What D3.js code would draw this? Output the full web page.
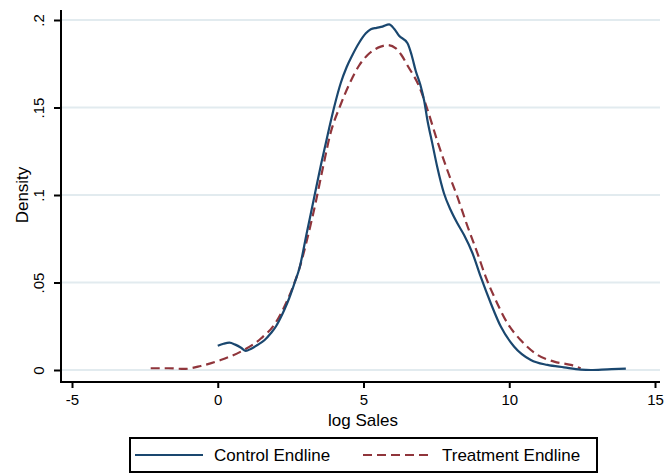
<!DOCTYPE html>
<html>
<head>
<meta charset="utf-8">
<script src="https://cdn.jsdelivr.net/npm/d3@7"></script>
<style>
	body { margin: 0; background: #ffffff; }
	svg { display: block; font-family: "Liberation Sans", Arial, Helvetica, sans-serif; }
</style>
</head>
<body>
<script>
'use strict';

// Kernel density estimates (log Sales, density).
const controlX = [0.0, 0.2, 0.4, 0.6, 0.8, 0.96, 1.15, 1.36, 1.6, 1.82, 2.0, 2.16, 2.3, 2.45, 2.64, 2.8, 3.05, 3.3, 3.55, 3.82, 3.99, 4.22, 4.42, 4.62, 4.85, 5.08, 5.25, 5.45, 5.65, 5.88, 6.05, 6.22, 6.51, 6.65, 6.79, 6.95, 7.08, 7.19, 7.36, 7.53, 7.76, 7.99, 8.22, 8.45, 8.74, 9.02, 9.37, 9.71, 10.17, 10.74, 11.31, 11.88, 12.45, 12.8, 13.37, 14.0];
const controlY = [0.0139, 0.0150, 0.0156, 0.0145, 0.0127, 0.0109, 0.0122, 0.0143, 0.017, 0.021, 0.025, 0.030, 0.035, 0.041, 0.050, 0.058, 0.078, 0.098, 0.118, 0.138, 0.150, 0.164, 0.173, 0.180, 0.187, 0.1924, 0.1947, 0.1955, 0.1962, 0.1975, 0.195, 0.191, 0.1867, 0.180, 0.171, 0.163, 0.154, 0.143, 0.1295, 0.116, 0.101, 0.0914, 0.0838, 0.0771, 0.0667, 0.0533, 0.038, 0.0248, 0.0133, 0.0057, 0.0029, 0.0015, 0.0002, 0.0, 0.0004, 0.0008];

const treatmentX = [-2.3, -1.7, -1.16, -0.58, 0.1, 0.79, 1.48, 1.93, 2.28, 2.56, 2.8, 3.1, 3.35, 3.6, 3.88, 4.2, 4.56, 4.85, 5.14, 5.37, 5.59, 5.82, 6.11, 6.3, 6.51, 6.91, 7.19, 7.53, 7.88, 8.22, 8.57, 8.91, 9.19, 9.48, 9.94, 10.39, 10.97, 11.54, 12.11, 12.45];
const treatmentY = [0.001, 0.001, 0.0006, 0.0023, 0.0057, 0.0105, 0.018, 0.0257, 0.036, 0.0467, 0.058, 0.077, 0.095, 0.115, 0.136, 0.151, 0.165, 0.174, 0.180, 0.183, 0.1848, 0.1857, 0.1838, 0.180, 0.174, 0.162, 0.149, 0.131, 0.114, 0.099, 0.082, 0.0667, 0.0533, 0.042, 0.0267, 0.0171, 0.0086, 0.0048, 0.0029, 0.001];

const xTicks = [-5, 0, 5, 10, 15];
const yTicks = [0, 0.05, 0.1, 0.15, 0.2];
const yTickLabels = ["0", ".05", ".1", ".15", ".2"];
const seriesNames = ["Control Endline", "Treatment Endline"];

// Draws the two density curves in the Stata s2color look.
class DensityChart
{
	constructor(width, height)
	{
		this.width = width;
		this.height = height;
		this.plot = { left: 61, right: 660, top: 10, bottom: 382 };
		this.svg = d3.select("body").append("svg")
			.attr("width", width)
			.attr("height", height);

		this.x = d3.scaleLinear().domain([-5, 15]).range([72, 655]);
		this.y = d3.scaleLinear().domain([0, 0.2]).range([370, 20]);

		this.DrawGrid();
		this.DrawAxes();
		this.DrawCurves();
		this.DrawLegend();
	}

	DrawGrid()
	{
		this.svg.append("g")
			.selectAll("line")
			.data(yTicks)
			.enter()
			.append("line")
			.attr("x1", this.plot.left)
			.attr("x2", this.plot.right)
			.attr("y1", d => this.y(d))
			.attr("y2", d => this.y(d))
			.attr("stroke", "#e2ebef")
			.attr("stroke-width", 1.8);
	}

	DrawAxes()
	{
		let p = this.plot;

		// Bottom axis, ticks hanging below the axis line.
		// Plain hyphen for the minus sign, as in the original.
		let xAxis = d3.axisBottom(this.x)
			.tickValues(xTicks)
			.tickSize(6)
			.tickPadding(6)
			.tickFormat(d => String(d));
		let gx = this.svg.append("g")
			.attr("transform", "translate(0," + p.bottom + ")")
			.call(xAxis);
		gx.select(".domain").remove();
		gx.selectAll(".tick line").attr("stroke", "#000").attr("stroke-width", 2);
		gx.selectAll(".tick text")
			.attr("font-size", 15)
			.attr("font-family", "Liberation Sans, Arial, sans-serif")
			.attr("fill", "#000");

		// Left axis, labels rotated like Stata does.
		let yAxis = d3.axisLeft(this.y)
			.tickValues(yTicks)
			.tickSize(7)
			.tickFormat((d, i) => yTickLabels[i]);
		let gy = this.svg.append("g")
			.attr("transform", "translate(" + p.left + ",0)")
			.call(yAxis);
		gy.select(".domain").remove();
		gy.selectAll(".tick line").attr("stroke", "#000").attr("stroke-width", 2);
		gy.selectAll(".tick text")
			.attr("font-size", 15)
			.attr("font-family", "Liberation Sans, Arial, sans-serif")
			.attr("fill", "#000")
			.attr("x", null)
			.attr("dy", null)
			.attr("text-anchor", "middle")
			.attr("transform", "translate(-17,0) rotate(-90)");

		this.svg.append("line")
			.attr("x1", p.left).attr("x2", p.right)
			.attr("y1", p.bottom).attr("y2", p.bottom)
			.attr("stroke", "#000").attr("stroke-width", 2);
		this.svg.append("line")
			.attr("x1", p.left).attr("x2", p.left)
			.attr("y1", p.top).attr("y2", p.bottom + 1)
			.attr("stroke", "#000").attr("stroke-width", 2);

		this.svg.append("text")
			.attr("x", 363)
			.attr("y", 426)
			.attr("text-anchor", "middle")
			.attr("font-size", 17)
			.text("log Sales");
		this.svg.append("text")
			.attr("transform", "translate(28,195) rotate(-90)")
			.attr("text-anchor", "middle")
			.attr("font-size", 17)
			.text("Density");
	}

	DrawCurves()
	{
		let control = controlX.map((v, i) => [v, controlY[i]]);
		let treatment = treatmentX.map((v, i) => [v, treatmentY[i]]);
		let line = d3.line()
			.x(d => this.x(d[0]))
			.y(d => this.y(d[1]))
			.curve(d3.curveMonotoneX);

		this.svg.append("path")
			.datum(treatment)
			.attr("d", line)
			.attr("fill", "none")
			.attr("stroke", "#90353b")
			.attr("stroke-width", 2.2)
			.attr("stroke-dasharray", "9,5");
		this.svg.append("path")
			.datum(control)
			.attr("d", line)
			.attr("fill", "none")
			.attr("stroke", "#1a476f")
			.attr("stroke-width", 2.2);
	}

	DrawLegend()
	{
		let g = this.svg.append("g");
		g.append("rect")
			.attr("x", 130).attr("y", 438)
			.attr("width", 467).attr("height", 34)
			.attr("fill", "#fff")
			.attr("stroke", "#000")
			.attr("stroke-width", 2);

		let items = [
			{ name: seriesNames[0], color: "#1a476f", dash: null, x1: 135, x2: 203, tx: 214 },
			{ name: seriesNames[1], color: "#90353b", dash: "9,5", x1: 363, x2: 429, tx: 442 }
		];
		let rows = g.selectAll("g.item")
			.data(items)
			.enter()
			.append("g")
			.attr("class", "item");
		rows.append("line")
			.attr("x1", d => d.x1).attr("x2", d => d.x2)
			.attr("y1", 455).attr("y2", 455)
			.attr("stroke", d => d.color)
			.attr("stroke-width", 2.2)
			.attr("stroke-dasharray", d => d.dash);
		rows.append("text")
			.attr("x", d => d.tx)
			.attr("y", 461)
			.attr("font-size", 17)
			.text(d => d.name);
	}
}

let chart = new DensityChart(669, 476);
</script>
</body>
</html>
